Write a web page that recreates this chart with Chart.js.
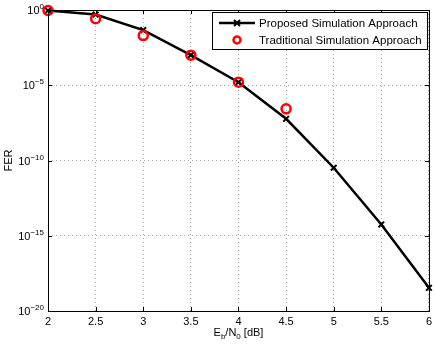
<!DOCTYPE html>
<html>
<head>
<meta charset="utf-8">
<script src="https://cdn.jsdelivr.net/npm/chart.js@4"></script>
<style>
  html, body { margin: 0; padding: 0; background: #fff; }
  #wrap { width: 436px; height: 348px; }
</style>
</head>
<body>
<div id="wrap"><canvas id="ferChart" width="436" height="348"></canvas></div>
<script>
// valores
const ebno = [2, 2.5, 3, 3.5, 4, 4.5, 5, 5.5, 6];
const ferPropuesto = [0.92, 0.5, 0.046, 1e-3, 1.6e-5, 5.9e-8, 3.3e-11, 5.6e-15, 3.5e-19];
const ebnoTrad = [2, 2.5, 3, 3.5, 4, 4.5];
const ferTradicional = [0.92, 0.26, 0.02, 1e-3, 1.6e-5, 2.7e-7];
const expTicks = [-20, -15, -10, -5, 0];
const nombres = ['Proposed Simulation Approach', 'Traditional Simulation Approach'];

const FONT = '"Liberation Sans", Arial, Helvetica, sans-serif';

// ejes, ticks internos, etiquetas y leyenda dibujados a mano (estilo matlab)
const ejesPlugin = {
    id: 'ejesMatlab',
    afterDraw(chart) {
        const ctx = chart.ctx;
        const a = chart.chartArea;
        const xs = chart.scales.x;
        const ys = chart.scales.y;
        ctx.save();

        // caja
        ctx.strokeStyle = '#000';
        ctx.lineWidth = 1;
        ctx.strokeRect(a.left + 0.5, a.top + 0.5, a.right - a.left, a.bottom - a.top);

        // ticks hacia adentro
        ctx.beginPath();
        ebno.forEach(v => {
            const px = Math.round(xs.getPixelForValue(v)) + 0.5;
            ctx.moveTo(px, a.bottom); ctx.lineTo(px, a.bottom - 4);
            ctx.moveTo(px, a.top); ctx.lineTo(px, a.top + 4);
        });
        expTicks.forEach(e => {
            const py = Math.round(ys.getPixelForValue(Math.pow(10, e))) + 0.5;
            ctx.moveTo(a.left, py); ctx.lineTo(a.left + 4, py);
            ctx.moveTo(a.right, py); ctx.lineTo(a.right - 4, py);
        });
        ctx.stroke();

        // etiquetas eje y: 10^e
        ctx.fillStyle = '#000';
        ctx.textBaseline = 'alphabetic';
        expTicks.forEach(e => {
            const py = ys.getPixelForValue(Math.pow(10, e));
            const sup = e === 0 ? '0' : '\u2212' + Math.abs(e);
            ctx.font = '8px ' + FONT;
            const wSup = ctx.measureText(sup).width;
            ctx.textAlign = 'right';
            ctx.fillText(sup, a.left - 4, py - 1);
            ctx.font = '11px ' + FONT;
            ctx.fillText('10', a.left - 4 - wSup, py + 4);
        });

        // titulo eje y
        ctx.save();
        ctx.translate(12, (a.top + a.bottom) / 2);
        ctx.rotate(-Math.PI / 2);
        ctx.font = '11px ' + FONT;
        ctx.textAlign = 'center';
        ctx.fillText('FER', 0, 0);
        ctx.restore();

        // titulo eje x: E_b/N_0 [dB]
        const partes = [['E', 11, 0], ['b', 8, 3], ['/N', 11, 0], ['0', 8, 3], [' [dB]', 11, 0]];
        let total = 0;
        partes.forEach(p => { ctx.font = p[1] + 'px ' + FONT; total += ctx.measureText(p[0]).width; });
        let cx = (a.left + a.right) / 2 - total / 2;
        const base = 336;
        ctx.textAlign = 'left';
        partes.forEach(p => {
            ctx.font = p[1] + 'px ' + FONT;
            ctx.fillText(p[0], cx, base + p[2]);
            cx += ctx.measureText(p[0]).width;
        });

        // leyenda
        const lx = 212, ly = 12, lw = 215, lh = 37;
        ctx.fillStyle = '#fff';
        ctx.fillRect(lx, ly, lw, lh);
        ctx.strokeStyle = '#000';
        ctx.lineWidth = 1;
        ctx.strokeRect(lx + 0.5, ly + 0.5, lw, lh);

        const y1 = ly + 11, y2 = ly + 28;
        ctx.strokeStyle = '#000';
        ctx.lineWidth = 2.5;
        ctx.beginPath();
        ctx.moveTo(lx + 7, y1); ctx.lineTo(lx + 43, y1);
        ctx.stroke();
        ctx.lineWidth = 2;
        ctx.beginPath();
        ctx.moveTo(lx + 22, y1 - 3); ctx.lineTo(lx + 28, y1 + 3);
        ctx.moveTo(lx + 22, y1 + 3); ctx.lineTo(lx + 28, y1 - 3);
        ctx.stroke();

        ctx.strokeStyle = '#ff0000';
        ctx.lineWidth = 2.5;
        ctx.beginPath();
        ctx.arc(lx + 25, y2, 3.5, 0, Math.PI * 2);
        ctx.stroke();

        ctx.fillStyle = '#000';
        ctx.font = '11.5px ' + FONT;
        ctx.textAlign = 'left';
        ctx.textBaseline = 'middle';
        ctx.fillText(nombres[0], lx + 47, y1 + 0.5);
        ctx.fillText(nombres[1], lx + 47, y2 + 0.5);

        ctx.restore();
    }
};

const data_fer = {
    datasets: [
        {
            label: nombres[0],
            data: ebno.map((x, i) => ({ x: x, y: ferPropuesto[i] })),
            borderColor: '#000',
            backgroundColor: '#000',
            borderWidth: 2.5,
            pointStyle: 'crossRot',
            pointRadius: 4,
            pointBorderWidth: 2,
            showLine: true,
            clip: false,
            order: 2
        }, {
            label: nombres[1],
            data: ebnoTrad.map((x, i) => ({ x: x, y: ferTradicional[i] })),
            borderColor: '#ff0000',
            backgroundColor: 'rgba(0,0,0,0)',
            pointStyle: 'circle',
            pointRadius: 4.5,
            pointBorderWidth: 2.5,
            showLine: false,
            clip: false,
            order: 1
        }
    ]
};

const ferConfig = {
    type: 'line',
    data: data_fer,
    options: {
        responsive: false,
        animation: false,
        layout: { padding: { left: 0, right: 6, top: 10, bottom: 0 } },
        plugins: {
            legend: { display: false },
            tooltip: { enabled: false }
        },
        scales: {
            x: {
                type: 'linear',
                min: 2,
                max: 6,
                afterBuildTicks: s => { s.ticks = ebno.map(v => ({ value: v })); },
                afterFit: s => { s.height = 37; },
                ticks: {
                    color: '#000',
                    font: { family: FONT, size: 11 },
                    padding: 4,
                    maxRotation: 0,
                    callback: v => String(v)
                },
                grid: { color: '#aaa', lineWidth: 1, drawTicks: false },
                border: { display: false, dash: [1, 3] }
            },
            y: {
                type: 'logarithmic',
                min: 1e-20,
                max: 1,
                afterBuildTicks: s => { s.ticks = expTicks.map(e => ({ value: Math.pow(10, e) })); },
                afterFit: s => { s.width = 48; },
                ticks: { display: false },
                grid: { color: '#aaa', lineWidth: 1, drawTicks: false },
                border: { display: false, dash: [1, 3] }
            }
        }
    },
    plugins: [ejesPlugin]
};

const ferChart = new Chart(document.getElementById('ferChart'), ferConfig);
</script>
</body>
</html>
